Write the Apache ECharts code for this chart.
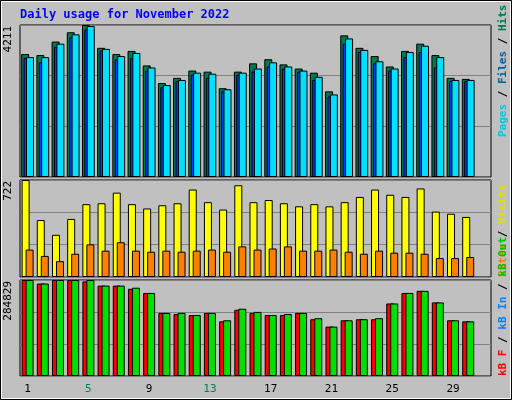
<!DOCTYPE html>
<html><head><meta charset="utf-8">
<script src="https://cdn.jsdelivr.net/npm/echarts@6/dist/echarts.min.js"></script>
<style>html,body{margin:0;padding:0;background:#c0c0c0}#c{width:512px;height:400px}</style>
</head><body><div id="c"></div>
<script>
const days = ['1','2','3','4','5','6','7','8','9','10','11','12','13','14','15','16','17','18','19','20','21','22','23','24','25','26','27','28','29','30','31'];
const weekendDays = ['5','6','12','13','19','20','26','27'];
const hits = [3407,3378,3752,4010,4211,3579,3407,3493,3091,2603,2747,2948,2919,2460,2919,3149,3263,3120,3005,2890,2373,3924,3579,3350,3062,3493,3694,3378,2747,2718];
const files = [3321,3321,3694,3952,4182,3550,3350,3436,3034,2546,2689,2890,2861,2431,2890,3005,3177,3062,2948,2775,2287,3838,3522,3206,3005,3464,3637,3321,2689,2689];
const pages = [3302,3177,3608,3866,4086,3503,3263,3292,2948,2488,2660,2833,2747,2373,2833,2919,3062,3005,2919,2689,2230,3694,3464,3149,2948,3321,3464,3034,2660,2660];
const visits = [722,424,314,432,542,549,628,542,510,534,549,651,557,502,683,557,573,549,526,542,526,557,596,651,612,596,659,487,471,447];
const sites = [204,157,118,173,243,196,259,196,188,196,188,196,204,188,228,204,212,228,196,196,204,188,173,196,181,181,173,141,141,149];
const kbF = [284829,274428,284829,284829,280665,268191,268191,258836,246362,187110,183992,180873,187110,162162,196466,187110,180873,180873,187110,168399,146570,165281,168399,168399,215177,246362,252599,218295,165281,162162];
const kbOut = [284829,274428,284829,284829,284829,268191,268191,261954,246362,187110,187110,180873,187110,165281,199584,190229,180873,183992,187110,171518,146570,165281,168399,171518,215177,246362,252599,218295,165281,162162];
const maxLabels = ['4211','722','284829'];
const title = 'Daily usage for November 2022';

const font = '"DejaVu Sans Mono", monospace';
const grids = [
  {left:20, right:21, top:25, height:152},
  {left:20, right:21, top:180, height:97},
  {left:20, right:21, top:280, height:96}
].map(g => Object.assign(g, {show:true, backgroundColor:'#c0c0c0', borderColor:'#000', borderWidth:1}));
const maxes = [4211, 722, 284829];
const xAxes = [0,1,2].map(i => ({
  type:'category', gridIndex:i, data:days, boundaryGap:true,
  axisLine:{show:false}, axisTick:{show:false},
  axisLabel: i===2 ? {show:true, fontFamily:font, fontSize:11, margin:8,
    formatter: v => weekendDays.includes(v) ? '{w|'+v+'}' : '{n|'+v+'}',
    rich:{w:{color:'#008060',fontFamily:font,fontSize:11}, n:{color:'#000',fontFamily:font,fontSize:11}}} : {show:false}
}));
const yAxes = [0,1,2].map(i => ({
  type:'value', gridIndex:i, min:0, max:maxes[i], interval:maxes[i]/3,
  axisLabel:{show:false}, axisLine:{show:false}, axisTick:{show:false},
  splitLine:{show:true, lineStyle:{color:'#808080', width:1}}
}));
const bs = (name, data, color, xi, w, gap) => ({
  type:'bar', name, data, xAxisIndex:xi, yAxisIndex:xi, barWidth:w, barGap:gap,
  itemStyle:{color, borderColor:'#000', borderWidth:1}, animation:false
});
const series = [
  bs('Hits', hits, '#007850', 0, 8, '-70%'),
  bs('Pages', pages, '#0040ff', 0, 8, '-70%'),
  bs('Files', files, '#00e0ff', 0, 8, '-70%'),
  bs('Visits', visits, '#ffff00', 1, 8, '-50%'),
  bs('Sites', sites, '#ff8000', 1, 8, '-50%'),
  bs('kB F', kbF, '#ff0000', 2, 8, '-50%'),
  bs('kB Out', kbOut, '#00e000', 2, 8, '-50%')
];
const vtext = (x, y, rich, text) => ({type:'text', x, y, rotation:Math.PI/2,
  style:{text, rich, font:'bold 11px '+font, align:'left', verticalAlign:'middle'}});
const graphic = [
  {type:'rect', shape:{x:0.5,y:0.5,width:511,height:399}, style:{fill:'none', stroke:'#000', lineWidth:1}},
  {type:'rect', shape:{x:1.5,y:1.5,width:509,height:397}, style:{fill:'none', stroke:'#fff', lineWidth:1}},
  {type:'text', x:20, y:9, style:{text:title, fill:'#0000ff', font:'bold 12px '+font}},
  {type:'text', x:8, y:26, rotation:Math.PI/2, style:{text:maxLabels[0], fill:'#000', font:'11px '+font, align:'right', verticalAlign:'middle'}},
  {type:'text', x:8, y:181, rotation:Math.PI/2, style:{text:maxLabels[1], fill:'#000', font:'11px '+font, align:'right', verticalAlign:'middle'}},
  {type:'text', x:8, y:281, rotation:Math.PI/2, style:{text:maxLabels[2], fill:'#000', font:'11px '+font, align:'right', verticalAlign:'middle'}},
  vtext(503, 137, {p:{fill:'#00c8e0',font:'bold 11px '+font}, f:{fill:'#0060a0',font:'bold 11px '+font}, h:{fill:'#007850',font:'bold 11px '+font}, s:{fill:'#000',font:'bold 11px '+font}},
    '{p|Pages} {s|/} {f|Files} {s|/} {h|Hits}'),
  vtext(503, 277, {p:{fill:'#ff8000',font:'bold 11px '+font}, f:{fill:'#e0e000',font:'bold 11px '+font}, s:{fill:'#000',font:'bold 11px '+font}},
    '{p|Sites} {s|/} {f|Visits}'),
  vtext(503, 376, {a:{fill:'#ff0000',font:'bold 11px '+font}, b:{fill:'#0080ff',font:'bold 11px '+font}, c:{fill:'#00c000',font:'bold 11px '+font}, s:{fill:'#000',font:'bold 11px '+font}},
    '{a|kB F} {s|/} {b|kB In} {s|/} {c|kB Out}')
];
// rotate legends so they read bottom-to-top, anchored at bottom
graphic.slice(3).forEach(g => { if (g.x === 503) { g.style.align = 'left'; } });
const chart = echarts.init(document.getElementById('c'), null, {renderer:'canvas'});
chart.setOption({backgroundColor:'#c0c0c0', animation:false, grid:grids, xAxis:xAxes, yAxis:yAxes, series, graphic});
</script></body></html>
